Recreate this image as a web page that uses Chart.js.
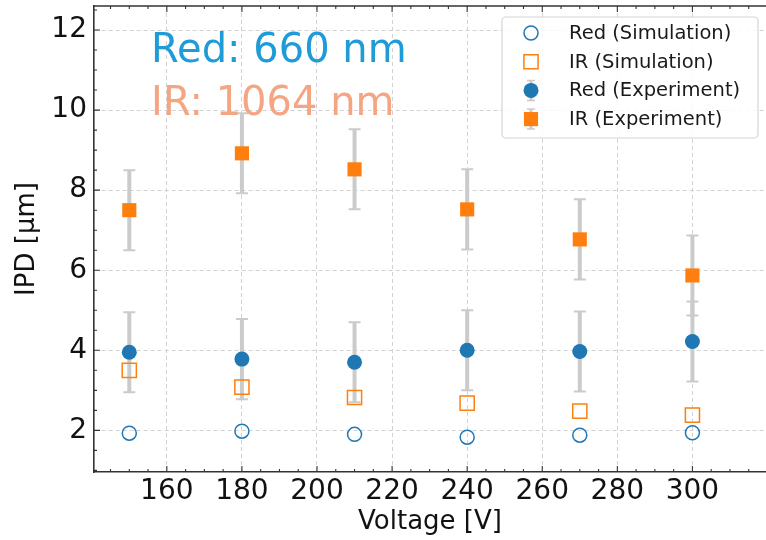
<!DOCTYPE html>
<html>
<head>
<meta charset="utf-8">
<title>IPD vs Voltage</title>
<script src="https://cdn.jsdelivr.net/npm/chart.js@4.4.0/dist/chart.umd.min.js"></script>
<style>
  html, body { margin: 0; padding: 0; background: #fff; }
  #wrap { width: 766px; height: 540px; }
</style>
</head>
<body>
<div id="wrap"><canvas id="ipdChart" width="766" height="540"></canvas></div>
<script>
// Measured IPD per bias voltage
let voltages = [150, 180, 210, 240, 270, 300];
let redSim = [1.93, 1.98, 1.90, 1.83, 1.88, 1.94];
let irSim = [3.50, 3.08, 2.82, 2.68, 2.48, 2.38];
let redExp = [3.95, 3.78, 3.70, 4.00, 3.97, 4.22];
let irExp = [7.50, 8.92, 8.52, 7.52, 6.77, 5.87];
let redErr = [1, 1, 1, 1, 1, 1];
let irErr = [1, 1, 1, 1, 1, 1];

let xTicks = [160, 180, 200, 220, 240, 260, 280, 300];
let yTicks = [2, 4, 6, 8, 10, 12];

let notes = ["Red: 660 nm", "IR: 1064 nm"];
let noteColors = ["#1f9bd7", "#f4a683"];

const BLUE = "#1f77b4";
const ORANGE = "#ff7f0e";
const FONT = "'DejaVu Sans', 'Liberation Sans', sans-serif";

function points(ys) {
  return voltages.map((v, i) => ({ x: v, y: ys[i] }));
}

// grey error bars under the experiment markers
const errorBars = {
  id: "errorBars",
  beforeDatasetsDraw(chart) {
    const ctx = chart.ctx;
    const yScale = chart.scales.y;
    chart.data.datasets.forEach((ds, i) => {
      if (!ds.errors) return;
      chart.getDatasetMeta(i).data.forEach((pt, j) => {
        let v = ds.data[j].y, e = ds.errors[j];
        let top = yScale.getPixelForValue(v + e);
        let bot = yScale.getPixelForValue(v - e);
        ctx.save();
        ctx.strokeStyle = "#cbcbcb";
        ctx.lineWidth = 4;
        ctx.beginPath();
        ctx.moveTo(pt.x, top);
        ctx.lineTo(pt.x, bot);
        ctx.stroke();
        ctx.lineWidth = 2;
        ctx.beginPath();
        ctx.moveTo(pt.x - 6, top); ctx.lineTo(pt.x + 6, top);
        ctx.moveTo(pt.x - 6, bot); ctx.lineTo(pt.x + 6, bot);
        ctx.stroke();
        ctx.restore();
      });
    });
  }
};

// top spine plus inward major/minor ticks
const frame = {
  id: "frame",
  afterDraw(chart) {
    const ctx = chart.ctx;
    const a = chart.chartArea;
    const xs = chart.scales.x, ys = chart.scales.y;
    ctx.save();
    ctx.strokeStyle = "#333";
    ctx.lineWidth = 1.6;
    ctx.beginPath();
    ctx.moveTo(a.left, a.top);
    ctx.lineTo(a.right, a.top);
    ctx.stroke();

    ctx.lineWidth = 1.1;
    ctx.beginPath();
    for (let v = Math.ceil(xs.min / 5) * 5; v <= xs.max; v += 5) {
      let px = xs.getPixelForValue(v);
      let len = v % 20 === 0 ? 6 : 3;
      ctx.moveTo(px, a.bottom); ctx.lineTo(px, a.bottom - len);
      ctx.moveTo(px, a.top); ctx.lineTo(px, a.top + len);
    }
    for (let v = Math.ceil(ys.min * 2) / 2; v <= ys.max; v += 0.5) {
      let py = ys.getPixelForValue(v);
      let len = v % 2 === 0 ? 6 : 3;
      ctx.moveTo(a.left, py); ctx.lineTo(a.left + len, py);
    }
    ctx.stroke();
    ctx.restore();
  }
};

// wavelength notes in axes fractions
const labels = {
  id: "labels",
  afterDatasetsDraw(chart) {
    const ctx = chart.ctx;
    const a = chart.chartArea;
    const fy = [0.88, 0.766];
    ctx.save();
    ctx.font = "40px " + FONT;
    ctx.textAlign = "left";
    ctx.textBaseline = "alphabetic";
    notes.forEach((t, i) => {
      ctx.fillStyle = noteColors[i];
      ctx.fillText(t, a.left + 0.085 * (a.right - a.left), a.bottom - fy[i] * (a.bottom - a.top));
    });
    ctx.restore();
  }
};

// legend framed inside the plot area
const boxLegend = {
  id: "boxLegend",
  afterDraw(chart) {
    const ctx = chart.ctx;
    const a = chart.chartArea;
    const right = a.right - 8, top = a.top + 11;
    const w = 256, h = 121, left = right - w;
    ctx.save();
    ctx.fillStyle = "rgba(255,255,255,0.85)";
    ctx.strokeStyle = "#d4d4d4";
    ctx.lineWidth = 1.2;
    ctx.beginPath();
    ctx.roundRect(left, top, w, h, 4);
    ctx.fill();
    ctx.stroke();

    ctx.font = "19.5px " + FONT;
    ctx.textBaseline = "middle";
    ctx.textAlign = "left";
    chart.data.datasets.forEach((ds, i) => {
      let cy = top + 16 + i * 28.7;
      let mx = left + 29;
      if (ds.errors) {
        ctx.strokeStyle = "#cbcbcb";
        ctx.lineWidth = 3;
        ctx.beginPath();
        ctx.moveTo(mx, cy - 10); ctx.lineTo(mx, cy + 10);
        ctx.stroke();
        ctx.lineWidth = 1.5;
        ctx.beginPath();
        ctx.moveTo(mx - 4, cy - 10); ctx.lineTo(mx + 4, cy - 10);
        ctx.moveTo(mx - 4, cy + 10); ctx.lineTo(mx + 4, cy + 10);
        ctx.stroke();
      }
      ctx.fillStyle = ds.pointBackgroundColor;
      ctx.strokeStyle = ds.pointBorderColor;
      ctx.lineWidth = ds.pointBorderWidth;
      Chart.helpers.drawPoint(ctx, {
        pointStyle: ds.pointStyle,
        radius: ds.pointRadius,
        rotation: 0,
        borderWidth: ds.pointBorderWidth
      }, mx, cy);
      ctx.fillStyle = "#1a1a1a";
      ctx.fillText(ds.label, left + 67, cy + 1);
    });
    ctx.restore();
  }
};

function series(label, ys, style, color, filled, radius, errs) {
  return {
    label: label,
    data: points(ys),
    pointStyle: style,
    pointRadius: radius,
    pointHoverRadius: radius,
    pointBorderWidth: filled ? 0 : 1.5,
    pointBorderColor: color,
    pointBackgroundColor: filled ? color : "rgba(255,255,255,0)",
    showLine: false,
    errors: errs
  };
}

let ctx = document.getElementById("ipdChart").getContext("2d");
let ipdChart = new Chart(ctx, {
  type: "scatter",
  data: {
    datasets: [
      series("Red (Simulation)", redSim, "circle", BLUE, false, 7),
      series("IR (Simulation)", irSim, "rect", ORANGE, false, 10),
      series("Red (Experiment)", redExp, "circle", BLUE, true, 7.5, redErr),
      series("IR (Experiment)", irExp, "rect", ORANGE, true, 10, irErr)
    ]
  },
  options: {
    responsive: false,
    animation: false,
    layout: { autoPadding: false, padding: { top: 6, right: 0, bottom: 0, left: 0 } },
    plugins: {
      legend: { display: false },
      tooltip: { enabled: false }
    },
    scales: {
      x: {
        type: "linear",
        min: 140.6,
        max: 319.6,
        afterBuildTicks: s => { s.ticks = xTicks.map(v => ({ value: v })); },
        afterFit: s => { s.height = 68; s.paddingLeft = 0; s.paddingRight = 0; },
        grid: { color: "#d2d2d2", lineWidth: 1, drawTicks: false },
        border: { display: true, color: "#333", width: 1.6, dash: [4, 3] },
        ticks: {
          padding: 3,
          color: "#111",
          autoSkip: false,
          maxRotation: 0,
          font: { family: FONT, size: 28 }
        },
        title: {
          display: true,
          text: "Voltage [V]",
          color: "#111",
          font: { family: FONT, size: 26 },
          padding: { top: 0, bottom: 2 }
        }
      },
      y: {
        type: "linear",
        min: 0.96,
        max: 12.6,
        afterBuildTicks: s => { s.ticks = yTicks.map(v => ({ value: v })); },
        afterFit: s => { s.width = 94; s.paddingTop = 0; s.paddingBottom = 0; },
        grid: { color: "#d2d2d2", lineWidth: 1, drawTicks: false },
        border: { display: true, color: "#333", width: 1.6, dash: [4, 3] },
        ticks: {
          padding: 7,
          color: "#111",
          font: { family: FONT, size: 28 }
        },
        title: {
          display: true,
          text: "IPD [μm]",
          color: "#111",
          font: { family: FONT, size: 26 },
          padding: { top: 12, bottom: 0 }
        }
      }
    }
  },
  plugins: [errorBars, labels, frame, boxLegend]
});
</script>
</body>
</html>
